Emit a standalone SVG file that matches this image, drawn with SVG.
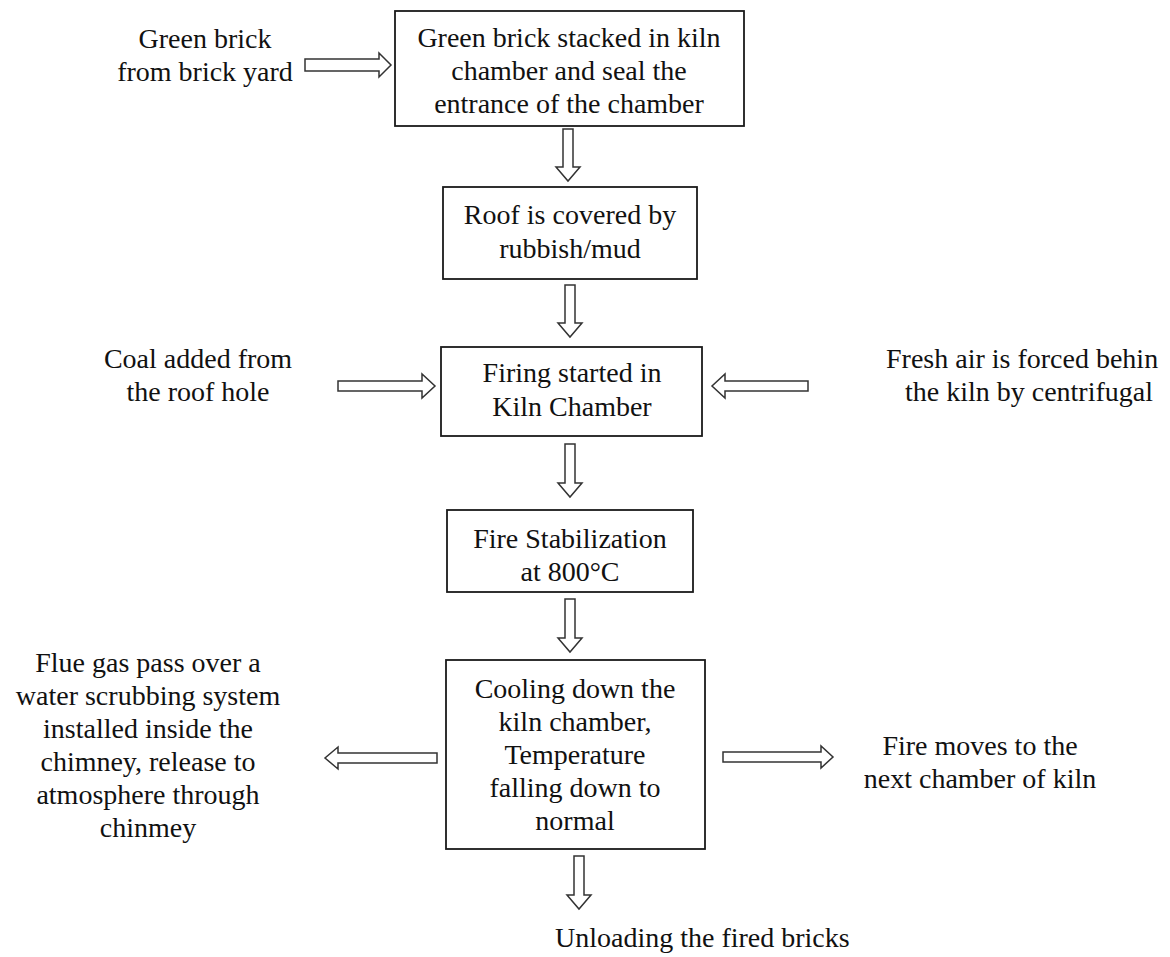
<svg xmlns="http://www.w3.org/2000/svg" width="1170" height="957" viewBox="0 0 1170 957" font-family="'Liberation Serif', 'Times New Roman', 'DejaVu Serif', serif">
<style>
.box{fill:#fff;stroke:#1a1a1a;stroke-width:1.8}
.arr{fill:#fff;stroke:#333;stroke-width:1.5;stroke-linejoin:miter}
.t{font-family:'Liberation Serif','Times New Roman','DejaVu Serif',serif;font-size:28px;fill:#111}
.c{text-anchor:middle}
</style>
<rect width="1170" height="957" fill="#fff"/>
<g id="connectors">
<path class="arr" d="M305,59 H379 V53 L391,65 L379,77 V71 H305 Z"/>
<path class="arr" d="M563,129 H573 V167 H580 L568,181 L556,167 H563 Z"/>
<path class="arr" d="M565,285 H575 V323 H582 L570,337 L558,323 H565 Z"/>
<path class="arr" d="M338,381 H422 V374 L435,386 L422,398 V391 H338 Z"/>
<path class="arr" d="M808,381 H725 V374 L712,386 L725,398 V391 H808 Z"/>
<path class="arr" d="M565,444 H575 V483 H582 L570,497 L558,483 H565 Z"/>
<path class="arr" d="M565,599 H575 V638 H582 L570,652 L558,638 H565 Z"/>
<path class="arr" d="M437,753 H338 V747 L325,758 L338,769 V763 H437 Z"/>
<path class="arr" d="M723,752 H821 V746 L833,757 L821,768 V762 H723 Z"/>
<path class="arr" d="M574,856 H584 V895 H591 L579,909 L567,895 H574 Z"/>
</g>
<g id="src-green" class="t">
<text class="c" x="205" y="48">Green brick</text>
<text class="c" x="205" y="81">from brick yard</text>
</g>
<g id="n1">
<rect class="box" x="395" y="11" width="349" height="115"/>
<g class="t">
<text class="c" x="569" y="47">Green brick stacked in kiln</text>
<text class="c" x="569" y="80">chamber and seal the</text>
<text class="c" x="569" y="113">entrance of the chamber</text>
</g>
</g>
<g id="n2">
<rect class="box" x="443" y="187" width="254" height="92"/>
<g class="t">
<text class="c" x="570" y="224">Roof is covered by</text>
<text class="c" x="570" y="258">rubbish/mud</text>
</g>
</g>
<g id="src-coal" class="t">
<text class="c" x="198" y="368">Coal added from</text>
<text class="c" x="198" y="401">the roof hole</text>
</g>
<g id="n3">
<rect class="box" x="441" y="347" width="261" height="89"/>
<g class="t">
<text class="c" x="572" y="382">Firing started in</text>
<text class="c" x="572" y="416">Kiln Chamber</text>
</g>
</g>
<g id="src-air" class="t">
<text x="886" y="368">Fresh air is forced behin</text>
<text class="c" x="1029" y="401">the kiln by centrifugal</text>
</g>
<g id="n4">
<rect class="box" x="447" y="510" width="246" height="82"/>
<g class="t">
<text class="c" x="570" y="548">Fire Stabilization</text>
<text class="c" x="570" y="581">at 800°C</text>
</g>
</g>
<g id="n5">
<rect class="box" x="446" y="660" width="259" height="189"/>
<g class="t">
<text class="c" x="575" y="698">Cooling down the</text>
<text class="c" x="575" y="731">kiln chamber,</text>
<text class="c" x="575" y="764">Temperature</text>
<text class="c" x="575" y="797">falling down to</text>
<text class="c" x="575" y="830">normal</text>
</g>
</g>
<g id="out-flue" class="t">
<text class="c" x="148" y="672">Flue gas pass over a</text>
<text class="c" x="148" y="705">water scrubbing system</text>
<text class="c" x="148" y="738">installed inside the</text>
<text class="c" x="148" y="771">chimney, release to</text>
<text class="c" x="148" y="804">atmosphere through</text>
<text class="c" x="148" y="837">chinmey</text>
</g>
<g id="out-fire" class="t">
<text class="c" x="980" y="755">Fire moves to the</text>
<text class="c" x="980" y="788">next chamber of kiln</text>
</g>
<g id="out-unload" class="t">
<text x="555" y="947">Unloading the fired bricks</text>
</g>
</svg>
